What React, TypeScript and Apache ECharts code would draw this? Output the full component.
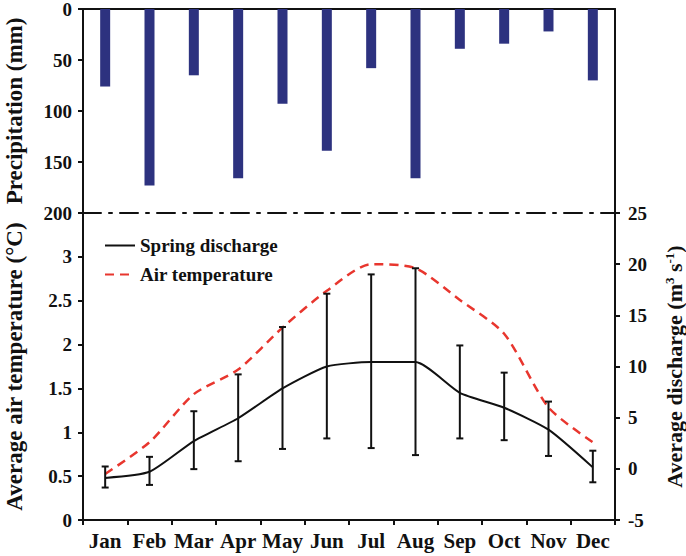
import React, { useEffect, useRef } from "react";
import * as echarts from "echarts";

const months = ["Jan", "Feb", "Mar", "Apr", "May", "Jun", "Jul", "Aug", "Sep", "Oct", "Nov", "Dec"];
const precipitation = [76, 173, 65, 166, 93, 139, 58, 166, 39, 34, 22, 70];
const discharge = [0.48, 0.55, 0.9, 1.16, 1.5, 1.75, 1.8, 1.8, 1.45, 1.28, 1.03, 0.6];
const dischargeLow = [0.37, 0.4, 0.58, 0.67, 0.81, 0.93, 0.82, 0.74, 0.93, 0.91, 0.73, 0.43];
const dischargeHigh = [0.61, 0.72, 1.24, 1.66, 2.2, 2.58, 2.8, 2.87, 1.99, 1.68, 1.35, 0.79];
const airTemperature = [-0.5, 2.6, 7.3, 9.7, 13.8, 17.4, 20.0, 19.6, 16.5, 13.2, 6.0, 2.6];

const FONT = '"Liberation Serif", "Times New Roman", serif';
const INK = "#111";

export default function App() {
  const ref = useRef<HTMLDivElement>(null);
  useEffect(() => {
    if (!ref.current) return;
    const chart = echarts.init(ref.current, undefined, { renderer: "svg" });
    const axisLine = { show: true, onZero: false, lineStyle: { color: INK, width: 2 } };
    const tick = { show: true, length: 5, lineStyle: { color: INK, width: 2 } };
    const lbl = { color: INK, fontFamily: FONT, fontWeight: "bold", fontSize: 19 };
    const nameStyle = { color: INK, fontFamily: FONT, fontWeight: "bold", fontSize: 23 };
    const errData = months.map((_, i) => [i, dischargeLow[i], dischargeHigh[i]]);

    chart.setOption({
      animation: false,
      backgroundColor: "#fff",
      grid: [
        { left: 83, right: 71, top: 9, height: 204, outerBoundsMode: "none", containLabel: false },
        { left: 83, right: 71, top: 213, height: 307, outerBoundsMode: "none", containLabel: false },
      ],
      legend: {
        data: [{ name: "Spring discharge" }, { name: "Air temperature" }],
        orient: "vertical",
        left: 99,
        top: 231,
        itemWidth: 30,
        itemHeight: 14,
        itemGap: 10,
        itemStyle: { opacity: 0 },
        textStyle: { color: INK, fontFamily: FONT, fontWeight: "bold", fontSize: 19 },
      },
      xAxis: [
        {
          gridIndex: 0, type: "category", data: months, position: "top",
          axisLine, axisTick: { show: false }, axisLabel: { show: false }, splitLine: { show: false },
        },
        {
          gridIndex: 1, type: "category", data: months, position: "bottom",
          axisLine, axisTick: tick, axisLabel: { ...lbl, fontSize: 21, margin: 10, interval: 0 }, splitLine: { show: false },
        },
        {
          gridIndex: 1, type: "category", data: months, position: "top",
          axisLine: { show: true, onZero: false, lineStyle: { color: INK, width: 2, type: [18, 8, 3, 8] } },
          axisTick: { show: false }, axisLabel: { show: false }, splitLine: { show: false },
        },
      ],
      yAxis: [
        {
          gridIndex: 0, type: "value", inverse: true, min: 0, max: 200, interval: 50, position: "left",
          axisLine, axisTick: tick, axisLabel: { ...lbl, margin: 11 }, splitLine: { show: false },
          name: "Precipitation (mm)", nameLocation: "middle", nameGap: 57, nameRotate: 90, nameTextStyle: nameStyle,
        },
        {
          gridIndex: 0, type: "value", inverse: true, min: 0, max: 200, position: "right",
          axisLine, axisTick: { show: false }, axisLabel: { show: false }, splitLine: { show: false },
        },
        {
          gridIndex: 1, type: "value", min: 0, max: 3.5, interval: 0.5, position: "left",
          axisLine, axisTick: tick,
          axisLabel: { ...lbl, margin: 11, formatter: (v: number) => (v >= 3.5 ? "" : String(v)) },
          splitLine: { show: false },
          name: "Average air temperature (°C)", nameLocation: "middle", nameGap: 57, nameRotate: 90, nameTextStyle: nameStyle,
        },
        {
          gridIndex: 1, type: "value", min: -5, max: 25, interval: 5, position: "right",
          axisLine, axisTick: tick, axisLabel: { ...lbl, margin: 13 }, splitLine: { show: false },
          name: "Average discharge (m{sup|3} s{sup|-1})", nameLocation: "middle", nameGap: 48, nameRotate: 90,
          nameTextStyle: {
            ...nameStyle,
            fontSize: 22,
            rich: {
              sup: { fontFamily: FONT, fontWeight: "bold", fontSize: 13, color: INK, verticalAlign: "top", padding: [0, 0, 9, 0] },
            },
          },
        },
      ],
      series: [
        {
          type: "bar", xAxisIndex: 0, yAxisIndex: 0, data: precipitation, barWidth: 10,
          itemStyle: { color: "#2d327f" },
        },
        {
          name: "Spring discharge", type: "line", xAxisIndex: 1, yAxisIndex: 2, data: discharge,
          symbol: "none", smooth: 0.2, lineStyle: { color: INK, width: 2 }, itemStyle: { color: INK }, z: 4,
        },
        {
          name: "Air temperature", type: "line", xAxisIndex: 1, yAxisIndex: 3, data: airTemperature,
          symbol: "none", smooth: 0.25, lineStyle: { color: "#e8362e", width: 2.5, type: [9, 6] }, itemStyle: { color: "#e8362e" }, z: 3,
        },
        {
          type: "custom", xAxisIndex: 1, yAxisIndex: 2, data: errData, z: 5,
          encode: { x: 0, y: [1, 2] },
          renderItem: (params: any, api: any) => {
            const x = api.value(0);
            const lo = api.coord([x, api.value(1)]);
            const hi = api.coord([x, api.value(2)]);
            const cap = 3.5;
            const style = { stroke: INK, lineWidth: 2 };
            return {
              type: "group",
              children: [
                { type: "line", shape: { x1: lo[0], y1: lo[1], x2: hi[0], y2: hi[1] }, style },
                { type: "line", shape: { x1: lo[0] - cap, y1: lo[1], x2: lo[0] + cap, y2: lo[1] }, style },
                { type: "line", shape: { x1: hi[0] - cap, y1: hi[1], x2: hi[0] + cap, y2: hi[1] }, style },
              ],
            };
          },
        },
      ],
    });
    return () => chart.dispose();
  }, []);
  return <div ref={ref} style={{ position: "absolute", left: 0, top: 0, width: 686, height: 556 }} />;
}
